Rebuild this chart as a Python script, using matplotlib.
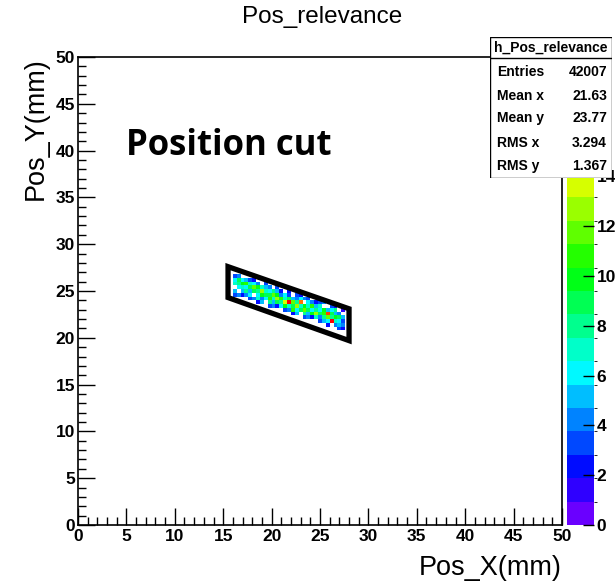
import numpy as np
import matplotlib
matplotlib.use("Agg")
import matplotlib.pyplot as plt
from matplotlib.colors import ListedColormap, BoundaryNorm, hsv_to_rgb
from matplotlib.patches import Polygon, Rectangle

# histogram binning (mm)
bin_w = 0.4
n_bins = 125

# filled strip: first column bin index, bottom bin index of each column, counts bottom->top
x_first_bin = 40
y_start_bin = [61, 61, 61, 60, 60, 60, 59, 59, 59, 58, 58, 58, 57, 57, 57,
               56, 56, 56, 55, 55, 55, 54, 54, 54, 53, 53, 53, 52, 52]
counts = [
    [3, 5, 0, 7, 6, 3], [4, 0, 6, 8, 9, 4], [2, 5, 7, 10, 6, 0], [0, 4, 8, 6, 11, 5],
    [3, 6, 5, 9, 7, 3], [4, 0, 9, 12, 6, 2], [2, 7, 6, 8, 10, 4], [5, 4, 10, 13, 7, 0],
    [0, 6, 9, 7, 5, 3], [3, 8, 11, 9, 6, 4], [4, 5, 7, 12, 8, 0], [2, 9, 13, 10, 5, 3],
    [0, 6, 8, 11, 4, 2], [3, 10, 14, 7, 6, 0], [4, 7, 18, 9, 3, 2], [2, 11, 9, 12, 5, 0],
    [5, 6, 13, 8, 4, 3], [0, 9, 7, 16, 6, 2], [3, 8, 12, 10, 0, 4], [4, 5, 9, 7, 6, 3],
    [2, 10, 6, 11, 4, 0], [0, 7, 13, 8, 5, 2], [3, 4, 9, 6, 7, 3], [5, 8, 11, 10, 0, 4],
    [2, 6, 12, 17, 5, 0], [0, 18, 8, 9, 6, 3], [4, 7, 10, 5, 8, 2], [3, 5, 6, 9, 4, 0],
    [2, 4, 3, 5, 0, 1],
]

# position cut frame corners (mm)
cut_x = [15.5, 15.5, 28.0, 28.0]
cut_y = [27.6, 24.3, 19.7, 23.1]

z_max = 18.8
n_levels = 20
cbar_labels = ["0", "2", "4", "6", "8", "10", "12", "14", "", ""]  # 16, 18 sit under the stats box

stats_labels = ["Entries", "Mean x", "Mean y", "RMS x", "RMS y"]
stats_values = ["42007", "21.63", "23.77", "3.294", "1.367"]

plt.rcParams['font.family'] = ['Liberation Sans', 'DejaVu Sans']

H = np.zeros((n_bins, n_bins))
for i, col in enumerate(counts):
    for j, c in enumerate(col):
        H[y_start_bin[i] + j, x_first_bin + i] = c
H = np.ma.masked_equal(H, 0)
edges = np.arange(n_bins + 1) * bin_w

# ROOT-like rainbow palette, violet -> red
hues = np.linspace(265, 0, n_levels) / 360.0
cmap = ListedColormap(hsv_to_rgb(np.column_stack([hues, np.ones(n_levels), np.ones(n_levels)])))
norm = BoundaryNorm(np.linspace(0, z_max, n_levels + 1), n_levels)

W, Hpx = 615, 587
fig = plt.figure(figsize=(W / 100, Hpx / 100), dpi=100)
ax = fig.add_axes([78 / W, 1 - 525 / Hpx, 484 / W, 468 / Hpx])
ax.pcolormesh(edges, edges, H, cmap=cmap, norm=norm)
ax.add_patch(Polygon(np.column_stack([cut_x, cut_y]), closed=True, fill=False,
                     edgecolor='black', lw=3.8, joinstyle='miter'))

ax.set_xlim(0, 50)
ax.set_ylim(0, 50)
ax.set_xticks(np.arange(0, 51, 5))
ax.set_yticks(np.arange(0, 51, 5))
ax.set_xticks(np.arange(0, 51, 1), minor=True)
ax.set_yticks(np.arange(0, 51, 1), minor=True)
ax.tick_params(which='both', direction='in', top=False, right=False, width=1)
ax.tick_params(which='major', length=12, labelsize=12.5)
ax.tick_params(which='minor', length=6)
ax.tick_params(axis='x', pad=3)
ax.tick_params(axis='y', pad=2)
for lab in ax.get_xticklabels() + ax.get_yticklabels():
    lab.set_fontweight('bold')
for s in ax.spines.values():
    s.set_linewidth(1.2)

ax.set_xlabel("Pos_X(mm)", fontsize=19.5, ha='right', x=1.0, labelpad=8)
ax.set_ylabel("Pos_Y(mm)", fontsize=19.5, ha='right', y=1.0, labelpad=5)

ax.text(5.0, 40.5, "Position cut", fontsize=25, fontweight='bold', family='Open Sans',
        va='center', ha='left')

fig.text(322 / W, 1 - 17 / Hpx, "Pos_relevance", fontsize=17.5,
         ha='center', va='center')

# colour scale
cax = fig.add_axes([567 / W, 1 - 525 / Hpx, 27 / W, 468 / Hpx])
cb = fig.colorbar(plt.cm.ScalarMappable(norm=norm, cmap=cmap), cax=cax)
cb.outline.set_visible(False)
cb.set_ticks(np.arange(0, 19, 2))
cb.set_ticklabels(cbar_labels)
cax.tick_params(direction='in', length=8, width=1, labelsize=12.5, pad=2)
for lab in cax.get_yticklabels():
    lab.set_fontweight('bold')

# stats box
sax = fig.add_axes([490 / W, 1 - 178 / Hpx, 122 / W, 141 / Hpx])
sax.set_xlim(0, 122)
sax.set_ylim(141, 0)
sax.axis('off')
sax.add_patch(Rectangle((0, 0), 122, 141, facecolor='white', edgecolor='black', lw=1))
sax.plot([0, 122], [21, 21], color='black', lw=1)
sax.text(61, 10.5, "h_Pos_relevance", ha='center', va='center', fontsize=10, fontweight='bold')
row_y = [35, 59, 81, 106, 129]
for lab, val, yy in zip(stats_labels, stats_values, row_y):
    sax.text(7, yy, lab, ha='left', va='center', fontsize=10, fontweight='bold')
    sax.text(117, yy, val, ha='right', va='center', fontsize=10, fontweight='bold')

fig.savefig("out.png", dpi=100)
